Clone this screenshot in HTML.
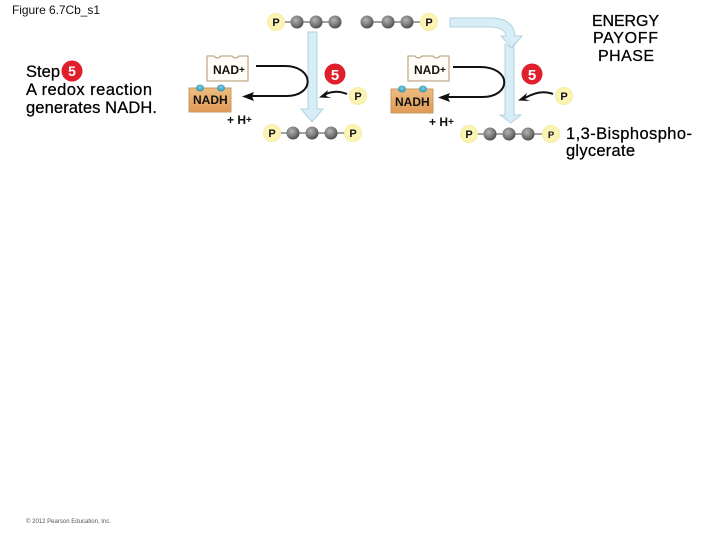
<!DOCTYPE html>
<html>
<head>
<meta charset="utf-8">
<style>
html,body{margin:0;padding:0;background:#fff;}
svg{display:block;}
text{font-family:"Liberation Sans",sans-serif;}
.t{stroke:#000;stroke-width:.25;}
</style>
</head>
<body>
<svg width="720" height="540" viewBox="0 0 720 540" xmlns="http://www.w3.org/2000/svg">
<defs>
<radialGradient id="b" cx="40%" cy="35%" r="70%"><stop offset="0" stop-color="#b4b4b4"/><stop offset="0.6" stop-color="#777"/><stop offset="1" stop-color="#444"/></radialGradient>
<radialGradient id="p" cx="50%" cy="50%" r="55%"><stop offset="0" stop-color="#fdf8c8"/><stop offset="0.75" stop-color="#fbf3ad"/><stop offset="1" stop-color="#f1e8a0"/></radialGradient>
<linearGradient id="o" x1="0" y1="0" x2="0" y2="1"><stop offset="0" stop-color="#eebd80"/><stop offset="1" stop-color="#e09a55"/></linearGradient>
<radialGradient id="e" cx="50%" cy="40%" r="60%"><stop offset="0" stop-color="#7fd0e0"/><stop offset="1" stop-color="#2f93ad"/></radialGradient>
<g id="nad"><path d="M0 0H7Q10 4 14 0H25Q28 4 32 0H41V25H0Z" fill="#fffdf5" stroke="#b09870" stroke-width="1"/></g>
<g id="nadh"><rect x="0" y="0" width="42" height="24" fill="url(#o)" stroke="#c49a68" stroke-width="1"/><ellipse cx="11" cy="0" rx="4" ry="3.5" fill="url(#e)"/><ellipse cx="32" cy="0" rx="4" ry="3.5" fill="url(#e)"/></g>
</defs>

<text x="12" y="14" font-size="12" fill="#111" textLength="88" lengthAdjust="spacing">Figure 6.7Cb_s1</text>
<text class="t" x="26" y="77" font-size="16.500" fill="#000" textLength="34" lengthAdjust="spacing">Step</text>
<circle cx="72" cy="71" r="10.500" fill="#e01f2d"/>
<text x="72" y="76" font-size="14" font-weight="bold" fill="#fff" text-anchor="middle">5</text>
<text class="t" x="26" y="95" font-size="16.500" fill="#000" textLength="126" lengthAdjust="spacing">A redox reaction</text>
<text class="t" x="26" y="113" font-size="16.500" fill="#000" textLength="131" lengthAdjust="spacing">generates NADH.</text>

<text class="t" x="592" y="26" font-size="16" fill="#000" textLength="67" lengthAdjust="spacing">ENERGY</text>
<text class="t" x="593" y="43" font-size="16" fill="#000" textLength="65" lengthAdjust="spacing">PAYOFF</text>
<text class="t" x="598" y="61" font-size="16" fill="#000" textLength="56" lengthAdjust="spacing">PHASE</text>
<text class="t" x="566" y="139" font-size="16.500" fill="#000" textLength="126" lengthAdjust="spacing">1,3-Bisphospho-</text>
<text class="t" x="566" y="156" font-size="16.500" fill="#000" textLength="69" lengthAdjust="spacing">glycerate</text>

<text x="26" y="523" font-size="6" fill="#555" textLength="85" lengthAdjust="spacing">© 2012 Pearson Education, Inc.</text>

<!-- light arrows -->
<path d="M308 32H317V109H323L312 122L301 109H308Z" fill="#d8eef7" stroke="#b4d3df" stroke-width="1"/>
<path d="M450 18H490Q514 18 515 36H522L512 48L501 36H506Q505 27 490 27H450Z" fill="#d8eef7" stroke="#b4d3df" stroke-width="1"/>
<path d="M505 44L512 48L514 44V115H521L511 123L500 115H505Z" fill="#d8eef7" stroke="#b4d3df" stroke-width="1"/>

<!-- chains -->
<g stroke="#444" stroke-width="1">
<line x1="276" y1="22" x2="335" y2="22"/>
<line x1="367" y1="22" x2="429" y2="22"/>
<line x1="272" y1="133" x2="353" y2="133"/>
<line x1="469" y1="134" x2="551" y2="134"/>
</g>
<g fill="url(#b)">
<circle cx="297" cy="22" r="6.500"/><circle cx="316" cy="22" r="6.500"/><circle cx="335" cy="22" r="6.500"/>
<circle cx="367" cy="22" r="6.500"/><circle cx="388" cy="22" r="6.500"/><circle cx="407" cy="22" r="6.500"/>
<circle cx="293" cy="133" r="6.500"/><circle cx="312" cy="133" r="6.500"/><circle cx="331" cy="133" r="6.500"/>
<circle cx="490" cy="134" r="6.500"/><circle cx="509" cy="134" r="6.500"/><circle cx="528" cy="134" r="6.500"/>
</g>
<g fill="url(#p)">
<circle cx="276" cy="22" r="9"/><circle cx="429" cy="22" r="9"/>
<circle cx="272" cy="133" r="9"/><circle cx="353" cy="133" r="9"/>
<circle cx="469" cy="134" r="9"/><circle cx="551" cy="134" r="9"/>
<circle cx="358" cy="96" r="9"/><circle cx="564" cy="96" r="9"/>
</g>
<g font-size="11" font-weight="bold" fill="#111" text-anchor="middle">
<text x="276" y="26">P</text><text x="429" y="26">P</text>
<text x="272" y="137">P</text><text x="353" y="137">P</text>
<text x="469" y="138">P</text><text x="551" y="138" font-size="9.500">P</text>
<text x="358" y="100">P</text><text x="564" y="100">P</text>
</g>

<!-- NAD boxes -->
<use href="#nad" x="207" y="56"/>
<use href="#nad" x="408" y="56"/>
<use href="#nadh" x="189" y="88"/>
<use href="#nadh" x="391" y="89"/>
<g font-size="12" font-weight="bold" fill="#111">
<text x="213" y="74">NAD<tspan font-size="10" dy="-1">+</tspan></text>
<text x="414" y="74">NAD<tspan font-size="10" dy="-1">+</tspan></text>
<text x="193" y="104">NADH</text>
<text x="395" y="106">NADH</text>
<text x="227" y="124"><tspan font-size="12">+</tspan> H<tspan font-size="10" dy="-1">+</tspan></text>
<text x="429" y="126"><tspan font-size="12">+</tspan> H<tspan font-size="10" dy="-1">+</tspan></text>
</g>

<!-- curved arrows -->
<g fill="none" stroke="#111" stroke-width="2">
<path d="M256 66H285C314 66 316 96 286 96H250"/>
<path d="M453 67H480C512 67 512 97 482 97H448"/>
<path d="M347 94Q335 89 324 95"/>
<path d="M553 94Q540 89 525 98"/>
</g>
<g fill="#111">
<path d="M242 96.500L254 92L252 96.500L254 101Z"/>
<path d="M438 97.500L450 93L448 97.500L450 102Z"/>
<path d="M319 97.500L328 90L326 96L331 98Z"/>
<path d="M518 100.500L527 93L525 99L530 101Z"/>
</g>

<!-- red 5 -->
<circle cx="335" cy="74" r="10.500" fill="#e01f2d"/>
<text x="335" y="80" font-size="15" font-weight="bold" fill="#fff" text-anchor="middle">5</text>
<circle cx="532" cy="74" r="10.500" fill="#e01f2d"/>
<text x="532" y="80" font-size="15" font-weight="bold" fill="#fff" text-anchor="middle">5</text>
</svg>
</body>
</html>
